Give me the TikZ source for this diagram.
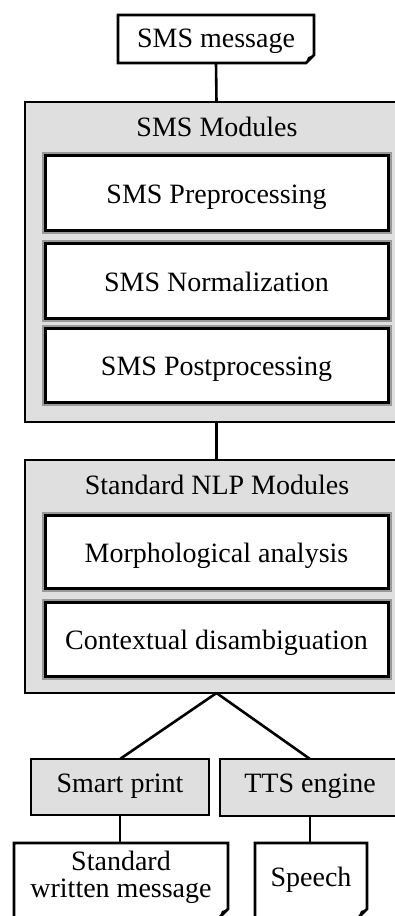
\documentclass[tikz,border=0pt]{standalone}
\usepackage{fontspec}
\setmainfont{Liberation Serif}
\begin{document}
\begin{tikzpicture}[x=1pt,y=-1pt,
  every node/.style={font=\fontsize{28}{27}\selectfont, inner sep=0pt, outer sep=0pt},
  conn/.style={line width=2.6pt},
  container/.style={draw, line width=2.4pt, fill=gray!25, rectangle, minimum width=383pt},
  module/.style={draw, line width=3pt, fill=white, minimum width=343pt, text height=21pt, text depth=0pt, preaction={draw=black!40, line width=7pt}},
  engine/.style={draw, line width=2.6pt, fill=gray!25, text height=19pt, text depth=9pt},
  docline/.style={draw, line width=2.6pt, fill=white, line join=miter},
  fold/.style={fill=black},
]
\useasboundingbox (0,0) rectangle (395,916);
\clip (0,0) rectangle (395,916);

% input document
\node[minimum width=196pt, minimum height=48pt] (msg) at (216,39) {};
\draw[docline] (msg.north west) -- (msg.north east) -- ([yshift=8pt]msg.south east) -- ([xshift=-8pt]msg.south east) -- (msg.south west) -- cycle;
\fill[fold] ([yshift=8pt]msg.south east) -- ([xshift=-8pt]msg.south east) -- ([xshift=-6pt,yshift=6pt]msg.south east) -- cycle;
\node[anchor=base] (msgT) at (216,47) {SMS message};

% SMS modules
\node[container, minimum height=320pt] (sms) at (216.5,262) {};
\node[anchor=base] (smsT) at (217,136) {SMS Modules};
\node[module, minimum height=75pt] (pre) at (216.5,192.5) {SMS Preprocessing};
\node[module, minimum height=75pt] (norm) at (216.5,280.5) {SMS Normalization};
\node[module, minimum height=74pt] (post) at (216.5,365) {SMS Postprocessing};

% NLP modules
\node[container, minimum height=233pt] (nlp) at (216.5,576.5) {};
\node[anchor=base] (nlpT) at (217,494) {Standard NLP Modules};
\node[module, minimum height=73pt] (morph) at (216.5,551.5) {Morphological analysis};
\node[module, minimum height=74pt] (ctx) at (216.5,639) {Contextual disambiguation};

% engines
\node[engine, minimum width=178pt, minimum height=56pt] (smart) at (120,787) {Smart print};
\node[engine, minimum width=180pt, minimum height=57pt] (tts) at (310,787.5) {TTS engine};

% output documents
\node[minimum width=214pt, minimum height=75pt] (swm) at (121,880.5) {};
\draw[docline] (swm.north west) -- (swm.north east) -- ([yshift=9pt]swm.south east) -- ([xshift=-9pt]swm.south east) -- (swm.south west) -- cycle;
\fill[fold] ([yshift=9pt]swm.south east) -- ([xshift=-9pt]swm.south east) -- ([xshift=-6pt,yshift=7pt]swm.south east) -- cycle;
\node[anchor=base] (swmT) at (121,870) {\begin{tabular}[t]{@{}c@{}}Standard\\written message\end{tabular}};

\node[minimum width=112pt, minimum height=75pt] (sp) at (311,880.5) {};
\draw[docline] (sp.north west) -- (sp.north east) -- ([yshift=9pt]sp.south east) -- ([xshift=-9pt]sp.south east) -- (sp.south west) -- cycle;
\fill[fold] ([yshift=9pt]sp.south east) -- ([xshift=-9pt]sp.south east) -- ([xshift=-6pt,yshift=7pt]sp.south east) -- cycle;
\node[anchor=base] (spT) at (311,886) {Speech};

% connectors
\draw[conn] (msg.south) -- (sms.north);
\draw[conn] (sms.south) -- (nlp.north);
\draw[conn] (nlp.south) -- (smart.north);
\draw[conn] (nlp.south) -- (tts.north);
\draw[conn] (smart.south) -- (smart.south |- swm.north);
\draw[conn] (tts.south) -- (tts.south |- sp.north);
\end{tikzpicture}
\end{document}
